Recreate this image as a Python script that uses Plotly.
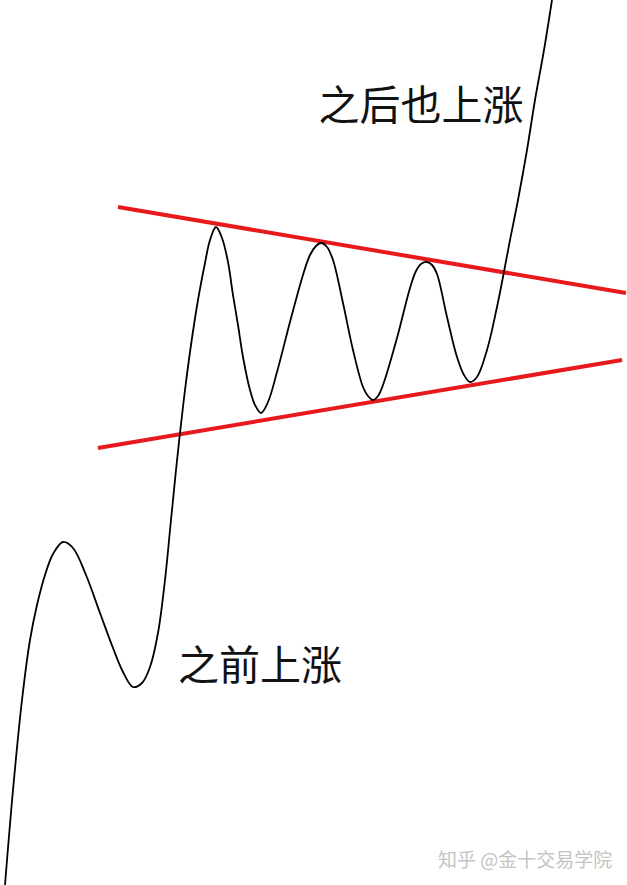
import plotly.graph_objects as go

# price path in pixel coords (y grows downward)
price_x = [5, 13, 22, 30, 37, 45, 53, 63, 73, 86, 100, 113, 123, 133,
           142, 150, 158, 165, 171, 176, 180, 185, 191, 198, 205, 210, 216,
           222, 228, 233, 238, 243, 250, 255, 261,
           268, 277, 290, 303, 310, 316, 321,
           327, 333, 343, 353, 363, 368, 373,
           378, 383, 397, 410, 416, 421, 427,
           432, 437, 447, 457, 464, 470,
           477, 487, 497, 503, 510, 518, 527, 535, 544, 552]
price_y = [885, 790, 700, 640, 605, 575, 554, 542, 548, 575, 613, 648, 672, 687,
           683, 667, 633, 580, 520, 470, 433, 390, 345, 300, 263, 240, 227,
           238, 262, 295, 325, 357, 390, 405, 413,
           402, 372, 322, 275, 255, 246, 243,
           247, 260, 303, 350, 387, 396, 400,
           396, 385, 338, 288, 271, 264, 262,
           265, 274, 317, 357, 375, 382,
           377, 350, 307, 277, 240, 200, 150, 100, 50, 0]

# triangle boundaries
upper_x = [118, 626]
upper_y = [207, 293]
lower_x = [98, 622]
lower_y = [448, 360]

labels = ["之后也上涨", "之前上涨"]
label_x = [421, 260]
label_y = [110, 670]

watermark = "知乎 @金十交易学院"

fig = go.Figure()
fig.add_trace(go.Scatter(x=upper_x, y=upper_y, mode="lines",
                         line=dict(color="#e8191b", width=4), showlegend=False))
fig.add_trace(go.Scatter(x=lower_x, y=lower_y, mode="lines",
                         line=dict(color="#e8191b", width=4), showlegend=False))
fig.add_trace(go.Scatter(x=price_x, y=price_y, mode="lines",
                         line=dict(color="black", width=1.8, shape="spline", smoothing=1.0),
                         showlegend=False))

fig.add_trace(go.Scatter(x=label_x, y=label_y, mode="text", text=labels,
                         textfont=dict(family="Noto Sans CJK SC", size=41, color="#111111"),
                         showlegend=False))

fig.add_annotation(x=525, y=858, text=watermark, showarrow=False,
                   font=dict(family="Noto Sans CJK SC", size=19, color="#c4c4c4"))

fig.update_xaxes(range=[0, 627], visible=False, fixedrange=True)
fig.update_yaxes(range=[885, 0], visible=False, fixedrange=True)
fig.update_layout(width=627, height=885, margin=dict(l=0, r=0, t=0, b=0),
                  plot_bgcolor="white", paper_bgcolor="white")

# page body has a default 8px margin, drop it so the figure fills the window
fig.write_html("out.html", config={"displayModeBar": False},
               post_script="document.body.style.margin='0';")
